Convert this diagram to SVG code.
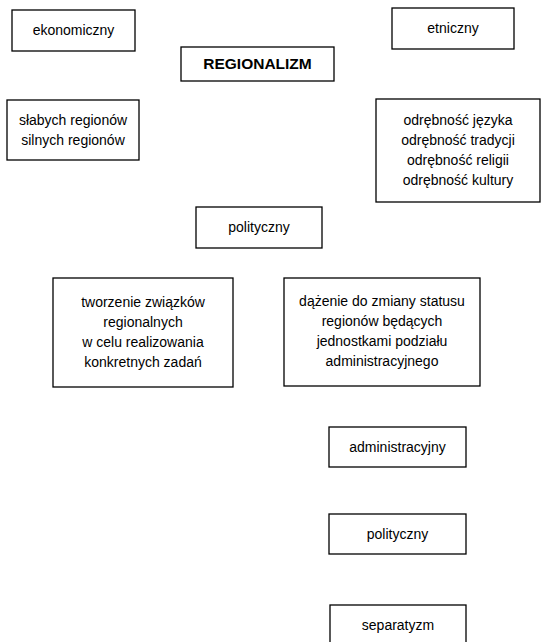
<svg xmlns="http://www.w3.org/2000/svg" width="542" height="642" viewBox="0 0 542 642">
<style>
rect{fill:#fff;stroke:#000;stroke-width:1.3}
text{font-family:"Liberation Sans",Arial,sans-serif;font-size:14px;fill:#000;text-anchor:middle}
.b{font-weight:bold;font-size:15.5px}
</style>
<rect x="0" y="0" width="542" height="642" style="stroke:none"/>
<g id="ekonomiczny"><rect x="12" y="10" width="123" height="41"/><text x="73.5" y="35">ekonomiczny</text></g>
<g id="regionalizm"><rect x="181" y="47" width="153" height="34"/><text class="b" x="257.5" y="69">REGIONALIZM</text></g>
<g id="etniczny"><rect x="392" y="8" width="122" height="41"/><text x="453" y="33">etniczny</text></g>
<g id="ekonomiczny-podtypy"><rect x="7" y="100" width="132" height="60"/><text x="73" y="125">słabych regionów</text><text x="73" y="145">silnych regionów</text></g>
<g id="etniczny-cechy"><rect x="376" y="99" width="164" height="103"/><text x="458" y="125">odrębność języka</text><text x="458" y="145">odrębność tradycji</text><text x="458" y="165">odrębność religii</text><text x="458" y="185">odrębność kultury</text></g>
<g id="polityczny"><rect x="196" y="207" width="126" height="41"/><text x="259" y="232">polityczny</text></g>
<g id="tworzenie"><rect x="53" y="278" width="180" height="109"/><text x="143" y="307">tworzenie związków</text><text x="143" y="327">regionalnych</text><text x="143" y="347">w celu realizowania</text><text x="143" y="367">konkretnych zadań</text></g>
<g id="dazenie"><rect x="284" y="278" width="196" height="108"/><text x="382" y="306">dążenie do zmiany statusu</text><text x="382" y="326">regionów będących</text><text x="382" y="346">jednostkami podziału</text><text x="382" y="366">administracyjnego</text></g>
<g id="administracyjny"><rect x="329" y="427" width="137" height="40"/><text x="397.5" y="452">administracyjny</text></g>
<g id="polityczny2"><rect x="329" y="514" width="137" height="40"/><text x="397.5" y="539">polityczny</text></g>
<g id="separatyzm"><rect x="330" y="605" width="136" height="45"/><text x="398" y="630">separatyzm</text></g>
<g id="connectors"></g>
</svg>
